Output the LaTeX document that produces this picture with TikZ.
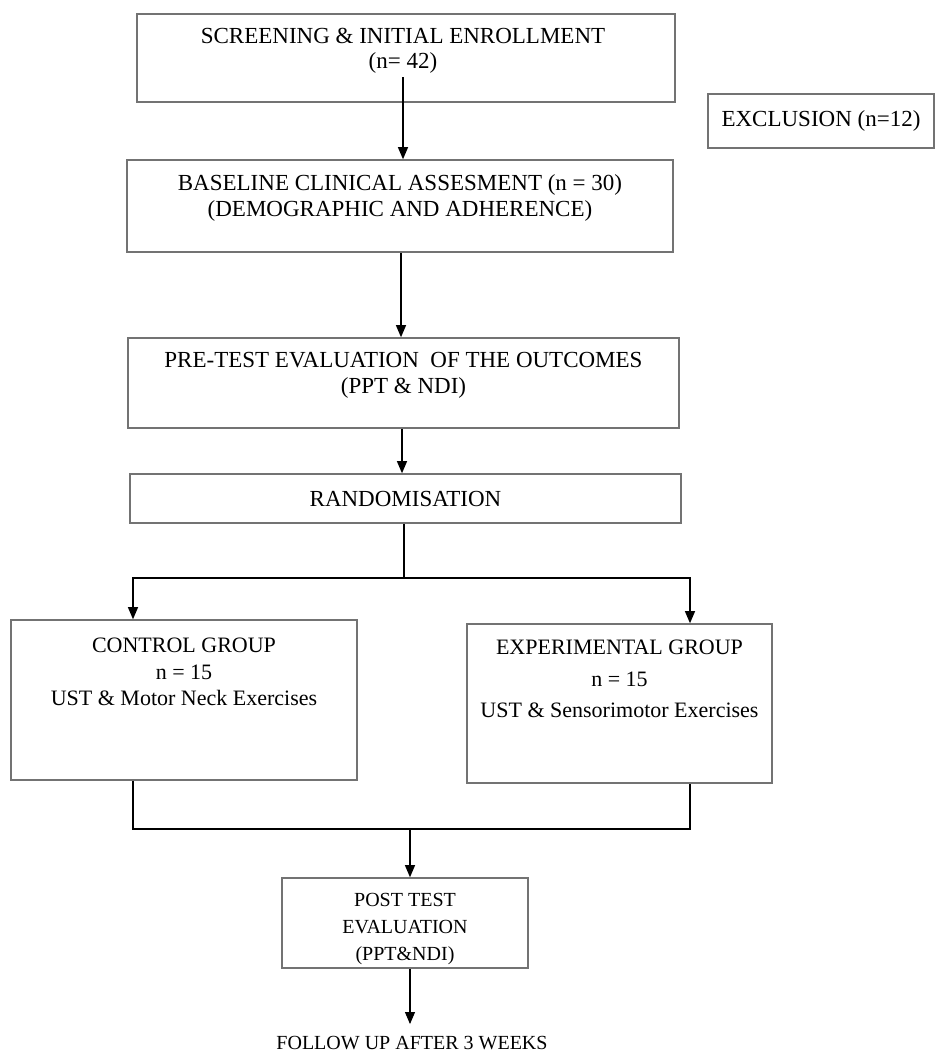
\documentclass[tikz,border=0pt]{standalone}
\usepackage{fontspec}
\setmainfont{Liberation Serif}
\usetikzlibrary{arrows.meta, positioning}

\begin{document}
\begin{tikzpicture}[
    x=1pt, y=-1pt,
    box/.style={draw=black!55, line width=1.6pt, inner sep=0pt, align=center},
    arrow/.style={-{Triangle[width=10pt, length=12pt]}, line width=1.1pt},
    link/.style={line width=1.1pt},
    textstyle/.style={font=\fontsize{23}{26}\selectfont, align=center},
    grouptext/.style={font=\fontsize{22}{26.5}\selectfont, align=center},
    smalltext/.style={font=\fontsize{20}{27}\selectfont, align=center}
]
\useasboundingbox (0,0) rectangle (936,1053);

% Top of the chart
\node[box, minimum width=538pt, minimum height=88pt] (screen) at (406,58) {};
\node[textstyle, font=\fontsize{23}{25}\selectfont] (screentxt) at (403,51) {SCREENING \& INITIAL ENROLLMENT\\(n= 42)};
\node[box, textstyle, minimum width=226pt, minimum height=54pt] (excl) at (821,121) {EXCLUSION (n=12)};

\node[box, minimum width=546pt, minimum height=92pt] (baseline) at (400,206) {};
\node[textstyle] (baselinetxt) at (400,198) {BASELINE CLINICAL ASSESMENT (n = 30)\\(DEMOGRAPHIC AND ADHERENCE)};

\node[box, minimum width=551pt, minimum height=90pt] (pretest) at (403.5,383) {};
\node[textstyle] (pretesttxt) at (403.5,375) {PRE-TEST EVALUATION \ OF THE OUTCOMES\\(PPT \& NDI)};

\node[box, textstyle, minimum width=551pt, minimum height=49pt] (random) at (405.5,498.5) {RANDOMISATION};

% Groups
\node[box, minimum width=346pt, minimum height=160pt] (control) at (184,700) {};
\node[grouptext] (controltxt) at (184,672) {CONTROL GROUP\\n = 15\\UST \& Motor Neck Exercises};

\node[box, minimum width=305pt, minimum height=159pt] (experimental) at (619.5,703.5) {};
\node[grouptext, font=\fontsize{22}{31.5}\selectfont] (experimentaltxt) at (619.5,679) {EXPERIMENTAL GROUP\\n = 15\\UST \& Sensorimotor Exercises};

% Bottom
\node[box, minimum width=246pt, minimum height=90pt] (posttest) at (405,923) {};
\node[smalltext] (posttesttxt) at (405,929) {POST TEST\\EVALUATION\\(PPT\&NDI)};
\node[smalltext, inner ysep=12pt] (followup) at (412,1043) {FOLLOW UP AFTER 3 WEEKS};

\coordinate (split) at (404,578);
\coordinate (cl) at (133,578);
\coordinate (cr) at (690,578);
\coordinate (join) at (410,829);

\draw[arrow] (screentxt.south) -- (screentxt.south |- baseline.north);
\draw[arrow] (baseline.south -| 401,0) -- (pretest.north -| 401,0);
\draw[arrow] (pretest.south -| 402,0) -- (random.north -| 402,0);
\draw[link] (random.south -| split) -- (split);
\draw[arrow] (split) -- (cl) -- (cl |- control.north);
\draw[arrow] (split) -- (cr) -- (cr |- experimental.north);
\draw[link] (cl |- control.south) |- (join) -| (cr |- experimental.south);
\draw[arrow] (join) -- (join |- posttest.north);
\draw[arrow] (join |- posttest.south) -- (join |- followup.north);

\end{tikzpicture}
\end{document}
